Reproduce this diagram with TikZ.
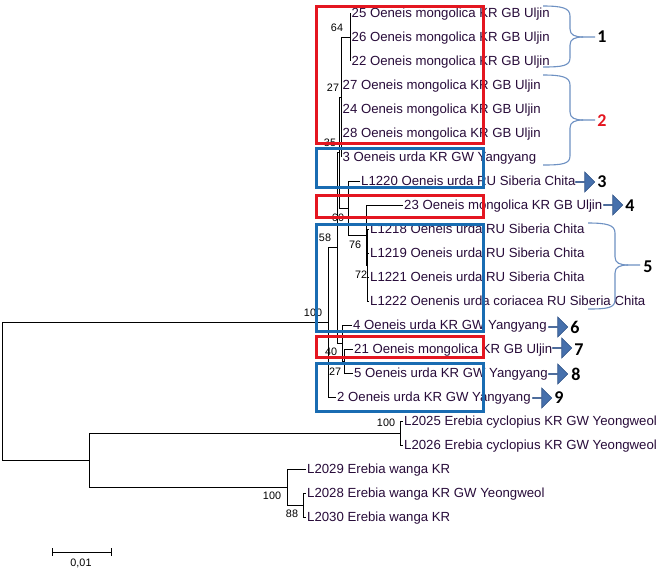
\documentclass[tikz,border=0pt]{standalone}
\usepackage{fontspec}
\setmainfont{Liberation Sans}
\newfontfamily\calfont{Carlito}
\usetikzlibrary{shapes.arrows}
\definecolor{boxred}{RGB}{228,22,32}
\definecolor{boxblue}{RGB}{25,108,178}
\definecolor{bracecol}{RGB}{110,145,195}
\definecolor{taxcol}{RGB}{40,12,58}
\definecolor{arrfill}{RGB}{70,112,172}
\definecolor{arrdraw}{RGB}{48,82,135}
\begin{document}
\begin{tikzpicture}[x=1pt,y=-1pt,
  taxon/.style={anchor=west, inner xsep=1.5pt, inner ysep=0pt, text height=9.4pt, text depth=0pt, font=\fontsize{13.2}{15}\selectfont, text=taxcol},
  bs/.style={inner sep=0pt, font=\fontsize{10.8}{12}\selectfont},
  br/.style={line width=0.9pt, black},
  hbox/.style={draw, line width=3pt, inner sep=0pt, minimum width=167pt},
  brace/.style={draw=bracecol, line width=1.1pt},
  barrow/.style={single arrow, fill=arrfill, draw=arrdraw, line width=0.6pt, minimum height=19pt, minimum width=20pt, single arrow head extend=5pt, inner sep=0pt},
  num/.style={inner sep=0pt, font=\calfont\bfseries\fontsize{18}{20}\selectfont}
]
\useasboundingbox (0,0) rectangle (668,574);
\fill[white] (0,0) rectangle (668,574);

% internal nodes
\coordinate (nA) at (350,37);
\coordinate (nB) at (341,97);
\coordinate (nC1) at (339,152.5);
\coordinate (nX) at (348,208);
\coordinate (n76) at (366,235);
\coordinate (n72) at (367.5,265);
\coordinate (n27b) at (344,361);
\coordinate (n40) at (342,343);
\coordinate (n58) at (337,247.75);
\coordinate (n100) at (328,322.4);
\coordinate (nCyc) at (400,433);
\coordinate (n88) at (303,505);
\coordinate (nW) at (287,487);
\coordinate (nO) at (89,460);
\coordinate (nR) at (2,391);

% taxa
\node[taxon] (t25) at (350,13) {25 Oeneis mongolica KR GB Uljin};
\node[taxon] (t26) at (350,37) {26 Oeneis mongolica KR GB Uljin};
\node[taxon] (t22) at (350,61) {22 Oeneis mongolica KR GB Uljin};
\node[taxon] (t27) at (341,85) {27 Oeneis mongolica KR GB Uljin};
\node[taxon] (t24) at (341,109) {24 Oeneis mongolica KR GB Uljin};
\node[taxon] (t28) at (341,133) {28 Oeneis mongolica KR GB Uljin};
\node[taxon] (t3) at (341,157) {3 Oeneis urda KR GW Yangyang};
\node[taxon] (tL1220) at (359.5,181) {L1220 Oeneis urda RU Siberia Chita};
\node[taxon] (t23) at (402.5,205) {23 Oeneis mongolica KR GB Uljin};
\node[taxon] (tL1218) at (368.5,229) {L1218 Oeneis urda RU Siberia Chita};
\node[taxon] (tL1219) at (368.5,253) {L1219 Oeneis urda RU Siberia Chita};
\node[taxon] (tL1221) at (368.5,277) {L1221 Oeneis urda RU Siberia Chita};
\node[taxon] (tL1222) at (368.5,301) {L1222 Oenenis urda coriacea RU Siberia Chita};
\node[taxon] (t4) at (351.5,325) {4 Oeneis urda KR GW Yangyang};
\node[taxon] (t21) at (352.5,349) {21 Oeneis mongolica KR GB Uljin};
\node[taxon] (t5) at (352.5,373) {5 Oeneis urda KR GW Yangyang};
\node[taxon] (t2) at (335.5,397) {2 Oeneis urda KR GW Yangyang};
\node[taxon] (tL2025) at (402.5,421) {L2025 Erebia cyclopius KR GW Yeongweol};
\node[taxon] (tL2026) at (402.5,445) {L2026 Erebia cyclopius KR GW Yeongweol};
\node[taxon] (tL2029) at (305.5,469) {L2029 Erebia wanga KR};
\node[taxon] (tL2028) at (305.5,493) {L2028 Erebia wanga KR GW Yeongweol};
\node[taxon] (tL2030) at (305.5,517) {L2030 Erebia wanga KR};

% branches
\draw[br] (nR) |- (n100);
\draw[br] (nR) |- (nO);
\draw[br] (n100) |- (n58);
\draw[br] (n100) |- (t2.west);
\draw[br] (n58) |- (nC1);
\draw[br] (n58) |- (n40);
\draw[br] (nC1) |- (nB);
\draw[br] (nC1) |- (nX);
\draw[br] (nB) |- (nA);
\draw[br] (nB) |- (t27.west);
\draw[br] (nB) |- (t24.west);
\draw[br] (nB) |- (t28.west);
\draw[br] (nB) |- (t3.west);
\draw[br] (nA) |- (t25.west);
\draw[br] (nA) |- (t26.west);
\draw[br] (nA) |- (t22.west);
\draw[br] (nX) |- (tL1220.west);
\draw[br] (nX) |- (n76);
\draw[br] (n76) |- (t23.west);
\draw[br] (n76) |- (n72);
\draw[br] (n72) |- (tL1218.west);
\draw[br] (n72) |- (tL1219.west);
\draw[br] (n72) |- (tL1221.west);
\draw[br] (n72) |- (tL1222.west);
\draw[br] (n40) |- (t4.west);
\draw[br] (n40) |- (n27b);
\draw[br] (n27b) |- (t21.west);
\draw[br] (n27b) |- (t5.west);
\draw[br] (nO) |- (nCyc);
\draw[br] (nO) |- (nW);
\draw[br] (nCyc) |- (tL2025.west);
\draw[br] (nCyc) |- (tL2026.west);
\draw[br] (nW) |- (tL2029.west);
\draw[br] (nW) |- (n88);
\draw[br] (n88) |- (tL2028.west);
\draw[br] (n88) |- (tL2030.west);

% bootstrap values
\node[bs] (b64) at (337,28) {64};
\node[bs] (b27a) at (333,88) {27};
\node[bs] (b35) at (330,143) {35};
\node[bs] (b60) at (338,218) {60};
\node[bs] (b58) at (325,238) {58};
\node[bs] (b76) at (355,245) {76};
\node[bs] (b72) at (361,275) {72};
\node[bs] (b100a) at (313,313) {100};
\node[bs] (b40) at (331,352) {40};
\node[bs] (b27b) at (335,372) {27};
\node[bs] (b100b) at (386,423) {100};
\node[bs] (b100c) at (272,496) {100};
\node[bs] (b88) at (292,514) {88};

% scale bar
\coordinate (sb1) at (52,552);
\coordinate (sb2) at (111,552);
\draw[line width=0.9pt] (sb1) -- (sb2);
\draw[line width=0.9pt] ([yshift=4pt]sb1) -- ([yshift=-4pt]sb1);
\draw[line width=0.9pt] ([yshift=4pt]sb2) -- ([yshift=-4pt]sb2);
\node[bs] (sblab) at (81,563) {0,01};

% highlight boxes
\node[hbox, draw=boxred, minimum height=137pt] (r1) at (399.5,74.5) {};
\node[hbox, draw=boxblue, minimum height=39pt] (bl1) at (399.5,167.5) {};
\node[hbox, draw=boxred, minimum height=22pt] (r2) at (399.5,206) {};
\node[hbox, draw=boxblue, minimum height=107pt] (bl2) at (399.5,277.5) {};
\node[hbox, draw=boxred, minimum height=21pt] (r3) at (399.5,346.5) {};
\node[hbox, draw=boxblue, minimum height=48pt] (bl3) at (399.5,387) {};

% braces
\draw[brace] (543,6) .. controls (562,6) and (570,8) .. (570,16) -- (570,29)
  .. controls (570,35) and (575,37) .. (583,37) -- (595,37);
\draw[brace] (583,37) .. controls (575,37) and (570,39) .. (570,45) -- (570,58)
  .. controls (570,66) and (562,67) .. (543,67);
\draw[brace] (543,75) .. controls (562,75) and (570,77) .. (570,85) -- (570,112)
  .. controls (570,118) and (575,120) .. (583,120) -- (595,120);
\draw[brace] (583,120) .. controls (575,120) and (570,122) .. (570,128) -- (570,156)
  .. controls (570,164) and (562,165) .. (543,165);
\draw[brace] (588,223) .. controls (607,223) and (615,225) .. (615,233) -- (615,257)
  .. controls (615,263) and (620,265) .. (628,265) -- (640,265);
\draw[brace] (628,265) .. controls (620,265) and (615,267) .. (615,273) -- (615,300)
  .. controls (615,308) and (607,309) .. (588,309);

\node[num] (g1) at (602,37) {1};
\node[num, text=boxred] (g2) at (602,121) {2};
\node[num] (g5) at (648,267) {5};

% arrows and group numbers
\node[barrow] (a3) at (585,182) {};
\node[num] (g3) at (602,182) {3};
\node[barrow] (a4) at (613,205) {};
\node[num] (g4) at (630,206) {4};
\node[barrow] (a6) at (558,327) {};
\node[num] (g6) at (575,327) {6};
\node[barrow] (a7) at (562,348) {};
\node[num] (g7) at (579,350) {7};
\node[barrow] (a8) at (558,374) {};
\node[num] (g8) at (576,374) {8};
\node[barrow] (a9) at (542,398) {};
\node[num] (g9) at (559,398) {9};
\end{tikzpicture}
\end{document}
